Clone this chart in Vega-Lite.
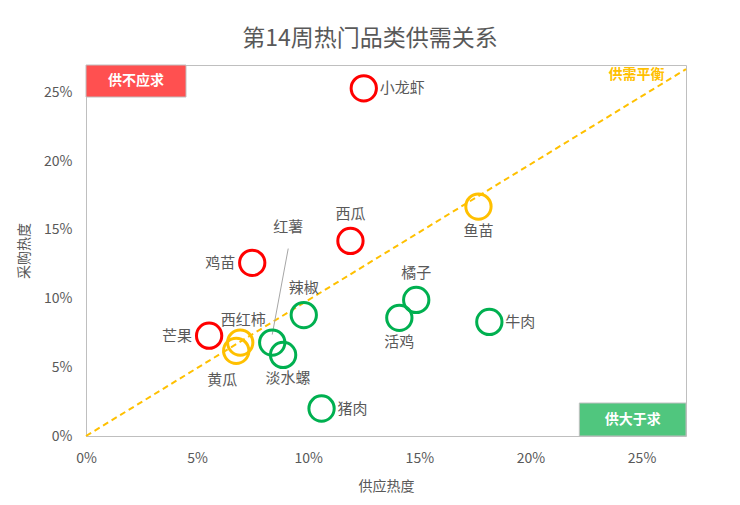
{
  "$schema": "https://vega.github.io/schema/vega-lite/v6.json",
  "autosize": {"type": "none"},
  "padding": {"left": 86, "top": 65, "right": 54, "bottom": 69},
  "width": 600,
  "height": 371,
  "background": "white",
  "title": {
    "text": "第14周热门品类供需关系",
    "fontSize": 23,
    "fontWeight": "normal",
    "color": "#595959",
    "font": "Noto Sans CJK SC",
    "anchor": "middle",
    "dx": -16,
    "offset": 14
  },
  "config": {
    "font": "Noto Sans CJK SC",
    "view": {"stroke": "#BFBFBF", "strokeWidth": 1},
    "axis": {
      "grid": false,
      "ticks": false,
      "domain": false,
      "labelFlush": false,
      "labelColor": "#595959",
      "labelFontSize": 14,
      "titleColor": "#595959",
      "titleFontSize": 14,
      "titleFontWeight": "normal",
      "labelFont": "Noto Sans CJK SC",
      "titleFont": "Noto Sans CJK SC"
    }
  },
  "datasets": {
    "items": [
      {"name": "小龙虾", "supply": 0.125, "demand": 0.253, "status": "供不应求"},
      {"name": "鱼苗", "supply": 0.1766, "demand": 0.167, "status": "供需平衡"},
      {"name": "西瓜", "supply": 0.119, "demand": 0.142, "status": "供不应求"},
      {"name": "鸡苗", "supply": 0.0748, "demand": 0.126, "status": "供不应求"},
      {"name": "橘子", "supply": 0.1486, "demand": 0.099, "status": "供大于求"},
      {"name": "活鸡", "supply": 0.141, "demand": 0.086, "status": "供大于求"},
      {"name": "牛肉", "supply": 0.1815, "demand": 0.083, "status": "供大于求"},
      {"name": "辣椒", "supply": 0.098, "demand": 0.088, "status": "供大于求"},
      {"name": "芒果", "supply": 0.0554, "demand": 0.073, "status": "供不应求"},
      {"name": "西红柿", "supply": 0.0694, "demand": 0.068, "status": "供需平衡"},
      {"name": "黄瓜", "supply": 0.0676, "demand": 0.062, "status": "供需平衡"},
      {"name": "红薯", "supply": 0.0838, "demand": 0.068, "status": "供大于求"},
      {"name": "淡水螺", "supply": 0.0887, "demand": 0.059, "status": "供大于求"},
      {"name": "猪肉", "supply": 0.106, "demand": 0.020, "status": "供大于求"}
    ],
    "balance": [
      {"supply": 0, "demand": 0},
      {"supply": 0.27, "demand": 0.267}
    ],
    "zones": [
      {"zone": "供不应求", "x1": 0, "x2": 0.045, "y1": 0.2467, "y2": 0.27, "cx": 0.0225, "cy": 0.2583},
      {"zone": "供大于求", "x1": 0.222, "x2": 0.27, "y1": 0, "y2": 0.024, "cx": 0.246, "cy": 0.012}
    ],
    "balanceLabel": [
      {"label": "供需平衡", "supply": 0.2603, "demand": 0.263}
    ]
  },
  "resolve": {"scale": {"x": "shared", "y": "shared", "color": "independent"}},
  "layer": [
    {
      "data": {"name": "zones"},
      "mark": {"type": "rect", "stroke": "#BFBFBF", "strokeWidth": 1},
      "encoding": {
        "x": {"field": "x1", "type": "quantitative", "scale": {"domain": [0, 0.27], "nice": false, "zero": true},
          "axis": {"values": [0, 0.05, 0.1, 0.15, 0.2, 0.25], "format": ".0%", "title": "供应热度", "labelPadding": 15, "titlePadding": 14}},
        "x2": {"field": "x2"},
        "y": {"field": "y1", "type": "quantitative", "scale": {"domain": [0, 0.27], "nice": false, "zero": true},
          "axis": {"values": [0, 0.05, 0.1, 0.15, 0.2, 0.25], "format": ".0%", "title": "采购热度", "labelPadding": 14, "titlePadding": 12}},
        "y2": {"field": "y2"},
        "color": {"field": "zone", "type": "nominal", "scale": {"domain": ["供不应求", "供大于求"], "range": ["#FF5050", "#50C67E"]}, "legend": null}
      }
    },
    {
      "data": {"name": "zones"},
      "mark": {"type": "text", "color": "white", "fontWeight": "bold", "fontSize": 14},
      "encoding": {
        "x": {"field": "cx", "type": "quantitative"},
        "y": {"field": "cy", "type": "quantitative"},
        "text": {"field": "zone"}
      }
    },
    {
      "data": {"name": "balance"},
      "mark": {"type": "line", "color": "#FFC000", "strokeWidth": 2, "strokeDash": [6, 4]},
      "encoding": {
        "x": {"field": "supply", "type": "quantitative"},
        "y": {"field": "demand", "type": "quantitative"}
      }
    },
    {
      "data": {"name": "balanceLabel"},
      "mark": {"type": "text", "color": "#FFC000", "fontWeight": "bold", "fontSize": 14, "align": "right"},
      "encoding": {
        "x": {"field": "supply", "type": "quantitative"},
        "y": {"field": "demand", "type": "quantitative"},
        "text": {"field": "label"}
      }
    },
    {
      "data": {"name": "items"},
      "transform": [{"filter": {"field": "name", "equal": "红薯"}}],
      "mark": {"type": "rule", "color": "#A6A6A6", "strokeWidth": 1, "yOffset": -8, "x2Offset": 16, "y2Offset": -94},
      "encoding": {
        "x": {"field": "supply", "type": "quantitative"},
        "y": {"field": "demand", "type": "quantitative"},
        "x2": {"field": "supply"},
        "y2": {"field": "demand"}
      }
    },
    {
      "data": {"name": "items"},
      "mark": {"type": "point", "shape": "circle", "filled": false, "size": 640, "strokeWidth": 3, "opacity": 1},
      "encoding": {
        "x": {"field": "supply", "type": "quantitative"},
        "y": {"field": "demand", "type": "quantitative"},
        "color": {
          "field": "status",
          "type": "nominal",
          "scale": {"domain": ["供不应求", "供需平衡", "供大于求"], "range": ["#FF0000", "#FFC000", "#00B050"]},
          "legend": null
        }
      }
    },
    {
      "data": {"name": "items"},
      "transform": [{"filter": {"field": "name", "oneOf": ["小龙虾", "牛肉", "猪肉"]}}],
      "mark": {"type": "text", "align": "left", "dx": 16, "fontSize": 15, "color": "#595959"},
      "encoding": {"x": {"field": "supply", "type": "quantitative"}, "y": {"field": "demand", "type": "quantitative"}, "text": {"field": "name"}}
    },
    {
      "data": {"name": "items"},
      "transform": [{"filter": {"field": "name", "oneOf": ["鸡苗", "芒果"]}}],
      "mark": {"type": "text", "align": "right", "dx": -17, "fontSize": 15, "color": "#595959"},
      "encoding": {"x": {"field": "supply", "type": "quantitative"}, "y": {"field": "demand", "type": "quantitative"}, "text": {"field": "name"}}
    },
    {
      "data": {"name": "items"},
      "transform": [{"filter": {"field": "name", "oneOf": ["西瓜", "橘子", "辣椒"]}}],
      "mark": {"type": "text", "dy": -27, "fontSize": 15, "color": "#595959"},
      "encoding": {"x": {"field": "supply", "type": "quantitative"}, "y": {"field": "demand", "type": "quantitative"}, "text": {"field": "name"}}
    },
    {
      "data": {"name": "items"},
      "transform": [{"filter": {"field": "name", "equal": "西红柿"}}],
      "mark": {"type": "text", "dy": -23, "dx": 3, "fontSize": 15, "color": "#595959"},
      "encoding": {"x": {"field": "supply", "type": "quantitative"}, "y": {"field": "demand", "type": "quantitative"}, "text": {"field": "name"}}
    },
    {
      "data": {"name": "items"},
      "transform": [{"filter": {"field": "name", "oneOf": ["鱼苗", "活鸡"]}}],
      "mark": {"type": "text", "dy": 24, "fontSize": 15, "color": "#595959"},
      "encoding": {"x": {"field": "supply", "type": "quantitative"}, "y": {"field": "demand", "type": "quantitative"}, "text": {"field": "name"}}
    },
    {
      "data": {"name": "items"},
      "transform": [{"filter": {"field": "name", "equal": "淡水螺"}}],
      "mark": {"type": "text", "dy": 23, "dx": 5, "fontSize": 15, "color": "#595959"},
      "encoding": {"x": {"field": "supply", "type": "quantitative"}, "y": {"field": "demand", "type": "quantitative"}, "text": {"field": "name"}}
    },
    {
      "data": {"name": "items"},
      "transform": [{"filter": {"field": "name", "equal": "黄瓜"}}],
      "mark": {"type": "text", "dy": 29, "dx": -14, "fontSize": 15, "color": "#595959"},
      "encoding": {"x": {"field": "supply", "type": "quantitative"}, "y": {"field": "demand", "type": "quantitative"}, "text": {"field": "name"}}
    },
    {
      "data": {"name": "items"},
      "transform": [{"filter": {"field": "name", "equal": "红薯"}}],
      "mark": {"type": "text", "dy": -116, "dx": 16, "fontSize": 15, "color": "#595959"},
      "encoding": {"x": {"field": "supply", "type": "quantitative"}, "y": {"field": "demand", "type": "quantitative"}, "text": {"field": "name"}}
    }
  ]
}
